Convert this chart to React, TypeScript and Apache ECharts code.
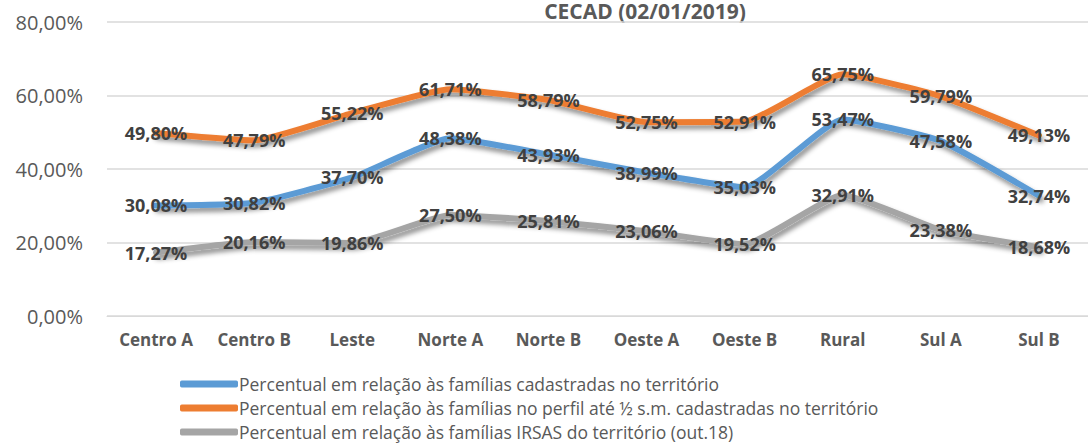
import React, { useEffect, useRef } from "react";
import * as echarts from "echarts";

const categories = ["Centro A", "Centro B", "Leste", "Norte A", "Norte B", "Oeste A", "Oeste B", "Rural", "Sul A", "Sul B"];
const seriesNames = [
  "Percentual em relação às famílias cadastradas no território",
  "Percentual em relação às famílias no perfil até ½ s.m. cadastradas no território",
  "Percentual em relação às famílias IRSAS do território (out.18)",
];
const cadastradas = [30.08, 30.82, 37.7, 48.38, 43.93, 38.99, 35.03, 53.47, 47.58, 32.74];
const perfilMeioSM = [49.8, 47.79, 55.22, 61.71, 58.79, 52.75, 52.91, 65.75, 59.79, 49.13];
const irsas = [17.27, 20.16, 19.86, 27.5, 25.81, 23.06, 19.52, 32.91, 23.38, 18.68];
const colors = ["#5B9BD5", "#ED7D31", "#A5A5A5"];
const titleText = "CECAD (02/01/2019)";

const fmt = (v: number) => v.toFixed(2).replace(".", ",") + "%";
const FONT = "'Open Sans', sans-serif";

export default function App() {
  const ref = useRef<HTMLDivElement>(null);
  useEffect(() => {
    if (!ref.current) return;
    const chart = echarts.init(ref.current, undefined, { renderer: "svg" });
    const data = [cadastradas, perfilMeioSM, irsas];
    const order = [0, 1, 2];
    chart.setOption({
      animation: false,
      textStyle: { fontFamily: FONT },
      graphic: [
        {
          type: "text",
          x: 645,
          y: 0,
          style: {
            text: titleText,
            fontFamily: FONT,
            fontSize: 21,
            lineHeight: 22,
            fontWeight: "bold",
            fill: "#595959",
            align: "center",
            verticalAlign: "top",
          },
        },
      ],
      legend: order.map((i) => ({
        orient: "horizontal",
        left: 180,
        top: 374 + i * 24,
        padding: 0,
        itemWidth: 58,
        itemHeight: 7,
        icon: "roundRect",
        textStyle: { fontSize: 17.5, lineHeight: 20, color: "#595959", fontFamily: FONT, padding: [0, 0, 0, -4] },
        data: [{ name: seriesNames[i], itemStyle: { color: colors[i], opacity: 1 } }],
      })),
      grid: { left: 107, top: 22, width: 990, height: 294, containLabel: false },
      xAxis: {
        type: "category",
        data: categories,
        boundaryGap: true,
        axisLine: { lineStyle: { color: "#d9d9d9" } },
        axisTick: { show: false },
        axisLabel: { color: "#595959", fontWeight: "bold", fontSize: 17, margin: 15, fontFamily: FONT },
      },
      yAxis: {
        type: "value",
        min: 0,
        max: 80,
        interval: 20,
        axisLine: { show: false },
        axisTick: { show: false },
        splitLine: { lineStyle: { color: "#d9d9d9", width: 1.5 } },
        axisLabel: { color: "#595959", fontSize: 20, margin: 24, fontFamily: FONT, formatter: (v: number) => fmt(v) },
      },
      series: order.map((i) => ({
        name: seriesNames[i],
        type: "line",
        data: data[i],
        smooth: 0.15,
        symbol: "circle",
        symbolSize: 1,
        showSymbol: true,
        itemStyle: { color: colors[i] },
        color: colors[i],
        lineStyle: {
          width: 6,
          color: colors[i],
          cap: "round",
          shadowColor: "rgba(0,0,0,0.45)",
          shadowBlur: 5,
          shadowOffsetX: 2,
          shadowOffsetY: 4,
        },
        label: {
          show: true,
          position: "inside",
          color: "#404040",
          fontWeight: "bold",
          fontSize: 18,
          fontFamily: FONT,
          formatter: (p: any) => fmt(p.value),
        },
      })),
    });
    return () => chart.dispose();
  }, []);
  return <div ref={ref} style={{ width: 1088, height: 444, position: "absolute", left: 0, top: 0 }} />;
}
